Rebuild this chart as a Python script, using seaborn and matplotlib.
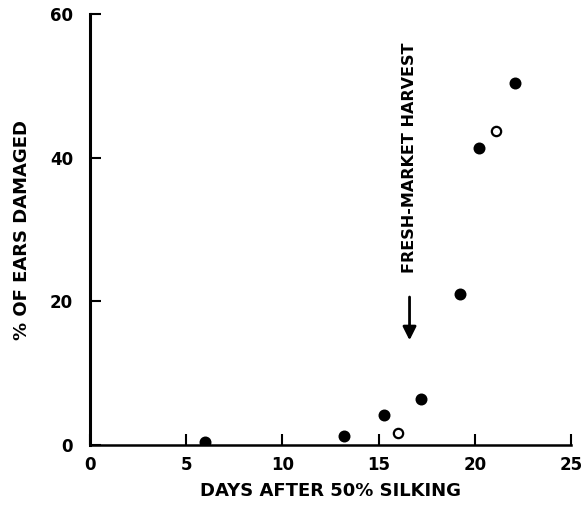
import seaborn as sns
import matplotlib.pyplot as plt
import pandas as pd

# Data
filled_days = [6.0, 13.2, 15.3, 17.2, 19.2, 20.2, 22.1]
filled_damage = [0.4, 1.3, 4.2, 6.4, 21.0, 41.4, 50.4]
open_days = [16.0, 21.1]
open_damage = [1.7, 43.7]
harvest_day = 16.6
x_ticks = [0, 5, 10, 15, 20, 25]
y_ticks = [0, 20, 40, 60]

df = pd.concat([
    pd.DataFrame({'days': filled_days, 'damage': filled_damage, 'kind': 'filled'}),
    pd.DataFrame({'days': open_days, 'damage': open_damage, 'kind': 'open'}),
])

sns.set_style('ticks', {'axes.edgecolor': 'black', 'text.color': 'black',
                        'xtick.color': 'black', 'ytick.color': 'black',
                        'axes.labelcolor': 'black'})
plt.rcParams['font.family'] = ['DejaVu Sans']

fig = plt.figure(figsize=(5.83, 5.08), dpi=100)
ax = fig.add_axes([0.154, 0.124, 0.826, 0.848])

sns.scatterplot(data=df[df.kind == 'filled'], x='days', y='damage', ax=ax,
                color='black', edgecolor='black', s=55, linewidth=1.2)
sns.scatterplot(data=df[df.kind == 'open'], x='days', y='damage', ax=ax,
                color='white', edgecolor='black', s=45, linewidth=1.6)

ax.set_xlim(0, 25)
ax.set_ylim(0, 60)
ax.set_xticks(x_ticks)
ax.set_yticks(y_ticks)
ax.tick_params(direction='in', length=8, width=1.5, labelsize=12)
ax.tick_params(axis='x', pad=8)
ax.tick_params(axis='y', pad=12)
for lab in ax.get_xticklabels() + ax.get_yticklabels():
    lab.set_fontweight('bold')

sns.despine(ax=ax)
ax.spines['left'].set_linewidth(2.2)
ax.spines['bottom'].set_linewidth(1.8)

ax.set_xlabel('DAYS AFTER 50% SILKING', fontsize=13, fontweight='bold', labelpad=6)
ax.set_ylabel('% OF EARS DAMAGED', fontsize=13, fontweight='bold', labelpad=14)

# harvest arrow and label
ax.annotate('', xy=(harvest_day, 14.2), xytext=(harvest_day, 21.0),
            arrowprops=dict(arrowstyle='-|>', color='black', lw=2,
                            mutation_scale=20))
ax.text(harvest_day, 24, 'FRESH-MARKET HARVEST', rotation=90, ha='center',
        va='bottom', fontsize=11.5, fontweight='bold')

fig.savefig('out.png', dpi=100)
